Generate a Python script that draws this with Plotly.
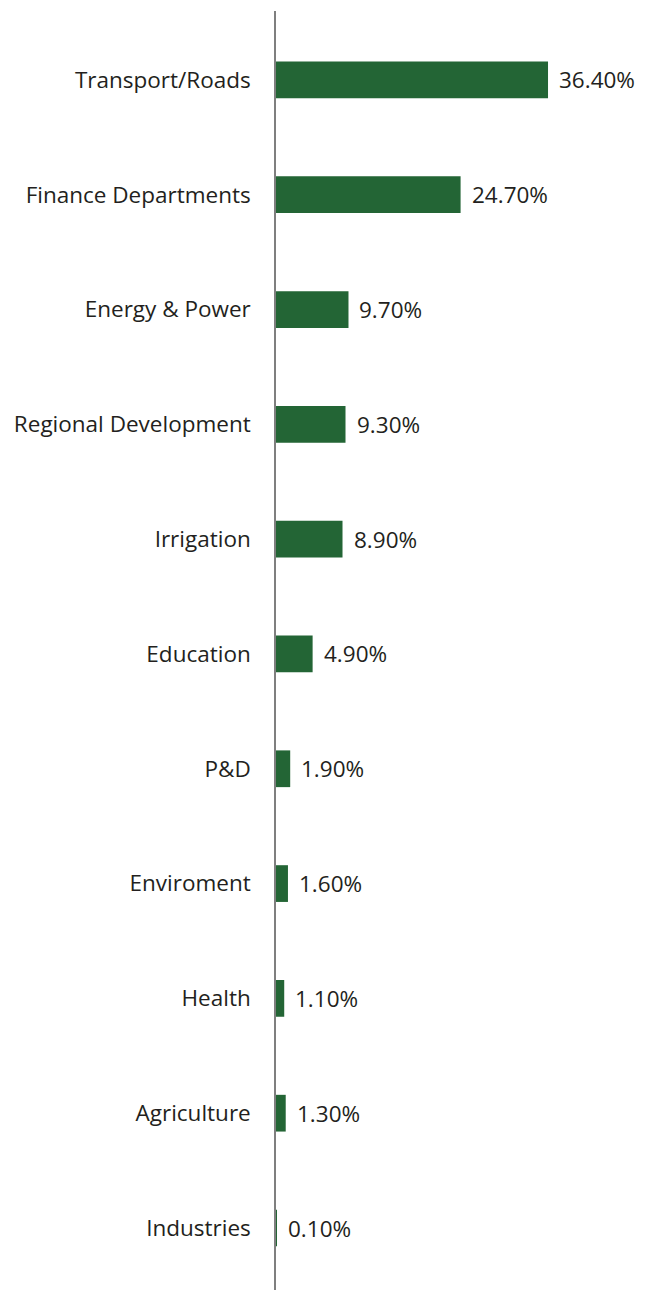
import plotly.graph_objects as go

categories = [
    "Transport/Roads", "Finance Departments", "Energy & Power",
    "Regional Development", "Irrigation", "Education", "P&D",
    "Enviroment", "Health", "Agriculture", "Industries",
]
shares = [36.4, 24.7, 9.7, 9.3, 8.9, 4.9, 1.9, 1.6, 1.1, 1.3, 0.1]
share_labels = [f"{v:.2f}%" for v in shares]

BAR_COLOR = "#236535"
TEXT_COLOR = "#231f20"
FONT = "Open Sans"
FONT_SIZE = 22.5

fig = go.Figure(
    go.Bar(
        x=shares,
        y=categories,
        orientation="h",
        width=0.32,
        marker=dict(color=BAR_COLOR, line=dict(width=0)),
        hoverinfo="skip",
    )
)

for cat, val, lab in zip(categories, shares, share_labels):
    fig.add_annotation(
        x=val, y=cat, text=lab, showarrow=False,
        xanchor="left", yanchor="middle", xshift=9,
        font=dict(family=FONT, size=FONT_SIZE, color=TEXT_COLOR),
    )

fig.update_layout(
    width=659, height=1290,
    margin=dict(l=276, r=0, t=11, b=0),
    paper_bgcolor="white", plot_bgcolor="white",
    showlegend=False,
    font=dict(family=FONT, size=FONT_SIZE, color=TEXT_COLOR),
    xaxis=dict(
        range=[0, 51.25], visible=False, fixedrange=True,
    ),
    yaxis=dict(
        type="category",
        categoryorder="array", categoryarray=categories,
        range=[10.54, -0.6],
        showline=True, linecolor="#7f7f7f", linewidth=1.5,
        showgrid=False, zeroline=False,
        ticks="", ticklabelstandoff=19,
        tickfont=dict(family=FONT, size=FONT_SIZE, color=TEXT_COLOR),
        fixedrange=True,
    ),
)

fig.write_html("out.html")
